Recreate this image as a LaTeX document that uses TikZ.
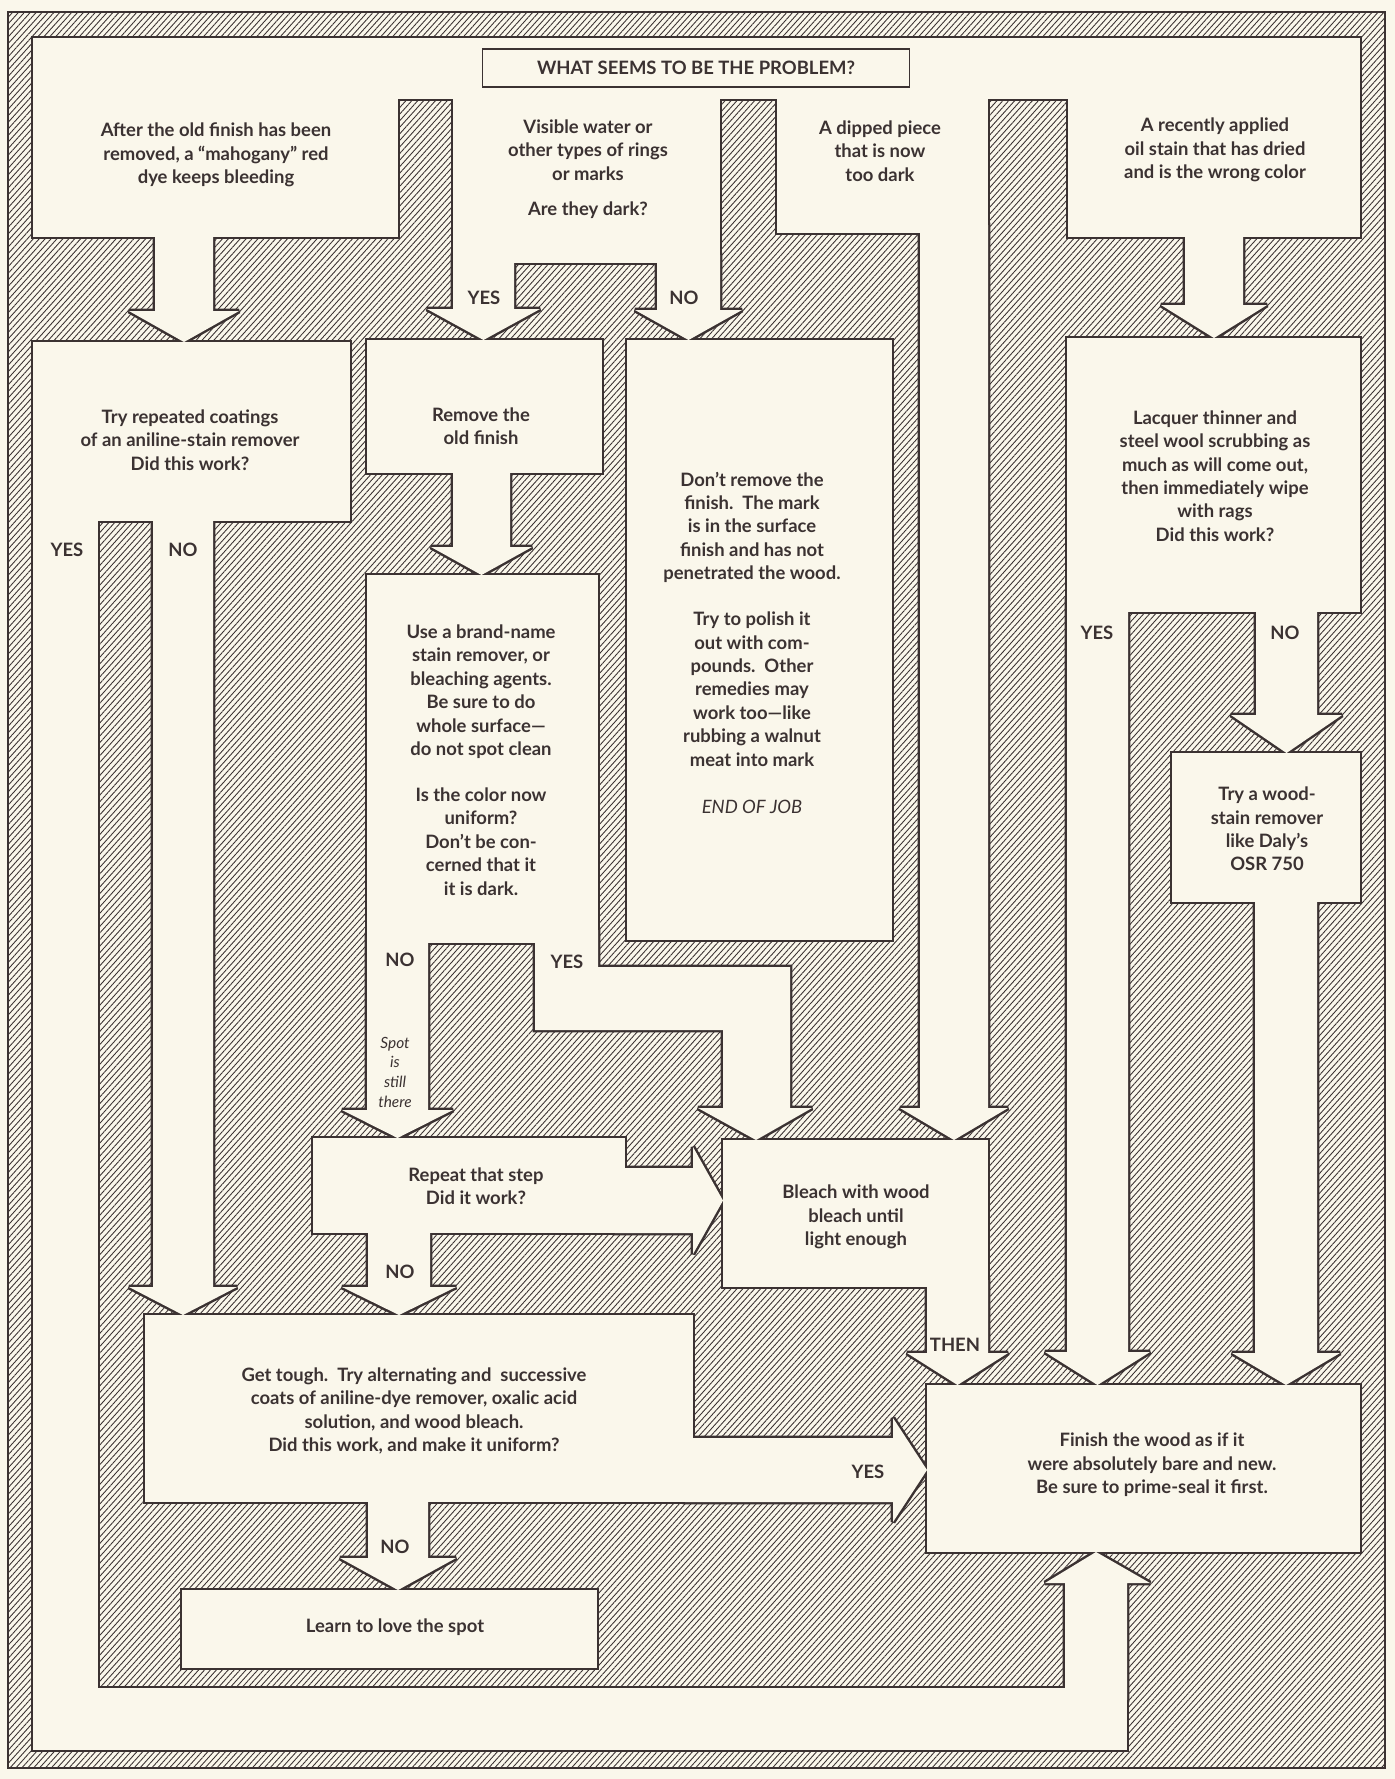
\documentclass[tikz,border=0pt]{standalone}
\usepackage{fontspec}
\setmainfont{Lato}
\usetikzlibrary{patterns.meta}
\definecolor{paper}{HTML}{FAF7EB}
\definecolor{ink}{HTML}{3B3232}
\tikzset{
    % hatched ground behind the channels
    hatch/.style={
        pattern={Lines[angle=48,distance=2.5pt,line width=0.5pt]},
        pattern color=ink},
    % first pass: heavy rim, only its outer half survives
    rim/.style={
        draw=ink,
        line width=2.8pt,
        miter limit=3,
        fill=paper},
    % second pass: wipe the inner half of every rim
    core/.style={fill=paper},
    % texts
    boxtext/.style={
        align=center,
        text=ink,
        inner sep=0pt,
        font=\fontsize{10.5}{13.3}\selectfont\bfseries},
    answer/.style={boxtext},
    aside/.style={
        align=center,
        text=ink,
        inner sep=0pt,
        font=\fontsize{8.8}{11.2}\selectfont\itshape}
}
% down channel: opts, left x, right x, top y, wing y, overhang, tip y
\newcommand\dnpipe[7]{\path[#1] (#2,#4) -- (#2,#5) -- ({#2-#6},#5) -- ({(#2+#3)/2},#7)
    -- ({#3+#6},#5) -- (#3,#5) -- (#3,#4) -- cycle;}
% right channel: opts, top y, bottom y, start x, wing x, overhang, tip x
\newcommand\rtpipe[7]{\path[#1] (#4,#2) -- (#5,#2) -- (#5,{#2-#6}) -- (#7,{(#2+#3)/2})
    -- (#5,{#3+#6}) -- (#5,#3) -- (#4,#3) -- cycle;}
% all cream channels, drawn twice
\newcommand\flowpipes[1]{%
    % question row
    \path[#1] (33,38) rectangle (1360,99);
    \path[#1] (33,38) rectangle (398,237);
    \path[#1] (453,38) rectangle (720,263);
    \path[#1] (777,38) rectangle (988,233);
    \path[#1] (1068,38) rectangle (1360,237);
    \dnpipe{#1}{155}{213}{228}{311}{26}{342}
    \dnpipe{#1}{453}{514}{255}{309}{26}{340}
    \dnpipe{#1}{657}{720}{255}{310}{22}{340}
    \dnpipe{#1}{1185}{1243}{228}{305}{24}{338}
    \dnpipe{#1}{920}{988}{225}{1108}{20}{1140}
    % left column and the long way round
    \path[#1] (33,342) rectangle (350,521);
    \path[#1] (33,510) rectangle (98,1750);
    \path[#1] (33,1688) rectangle (1127,1750);
    \path[#1] (1065,1700) -- (1065,1583) -- (1045,1583) -- (1096,1552) -- (1150,1583)
        -- (1127,1583) -- (1127,1700) -- cycle;
    \dnpipe{#1}{153}{213}{510}{1287}{24}{1315}
    % middle column
    \path[#1] (367,340) rectangle (602,473);
    \dnpipe{#1}{453}{510}{465}{547}{22}{575}
    \path[#1] (367,575) rectangle (598,943);
    \dnpipe{#1}{367}{428}{935}{1110}{25}{1138}
    \path[#1] (535,930) -- (535,1030) -- (723,1030) -- (723,1108) -- (698,1108) -- (756,1140)
        -- (812,1108) -- (790,1108) -- (790,967) -- (598,967) -- (598,930) -- cycle;
    \path[#1] (627,340) rectangle (892,940);
    \path[#1] (723,1140) rectangle (988,1287);
    \dnpipe{#1}{927}{988}{1280}{1353}{20}{1385}
    \path[#1] (313,1138) rectangle (625,1233);
    \rtpipe{#1}{1168}{1233}{615}{693}{21}{723}
    \dnpipe{#1}{368}{430}{1225}{1287}{26}{1315}
    \path[#1] (145,1315) rectangle (693,1502);
    \rtpipe{#1}{1438}{1502}{685}{893}{20}{927}
    \dnpipe{#1}{368}{428}{1494}{1558}{28}{1590}
    \path[#1] (182,1590) rectangle (597,1668);
    % right column
    \path[#1] (1067,338) rectangle (1360,612);
    \dnpipe{#1}{1067}{1128}{600}{1352}{22}{1385}
    \dnpipe{#1}{1256}{1317}{600}{715}{25}{753}
    \path[#1] (1172,753) rectangle (1360,902);
    \dnpipe{#1}{1255}{1317}{895}{1353}{23}{1385}
    \path[#1] (927,1385) rectangle (1360,1552);
}

\begin{document}
\begin{tikzpicture}[x=0.02cm, y=-0.02cm]
    \useasboundingbox (0,0) rectangle (1395,1779);
    \fill[paper] (0,0) rectangle (1395,1779);
    \draw[ink, line width=1.6pt, hatch] (8,12) rectangle (1385,1768);
    % channels: rims first, then the cream over them
    \flowpipes{rim}
    \flowpipes{core}

    % headline
    \node[boxtext, draw=ink, line width=0.7pt, minimum width=8.54cm, minimum height=0.76cm]
        (title) at (696,68) {WHAT SEEMS TO BE THE PROBLEM?};

    % problems
    \node[boxtext] (qbleed) at (216,155) {After the old finish has been\\removed, a ``mahogany'' red\\dye keeps bleeding};
    \node[boxtext] (qrings) at (588,169) {Visible water or\\other types of rings\\or marks\\[6.8pt]Are they dark?};
    \node[boxtext] (qdipped) at (880,151) {A dipped piece\\that is now\\too dark};
    \node[boxtext] (qstain) at (1215,150) {A recently applied\\oil stain that has dried\\and is the wrong color};
    \node[answer] (yesdark) at (484,298) {YES};
    \node[answer] (nodark) at (684,298) {NO};

    % steps
    \node[boxtext] (aniline) at (190,440) {Try repeated coatings\\of an aniline-stain remover\\Did this work?};
    \node[answer] (yesaniline) at (67,550) {YES};
    \node[answer] (noaniline) at (183,550) {NO};
    \node[boxtext] (strip) at (481,426) {Remove the\\old finish};
    \node[boxtext] (brand) at (481,760) {Use a brand-name\\stain remover, or\\bleaching agents.\\Be sure to do\\whole surface---\\do not spot clean\\[13pt]Is the color now\\uniform?\\Don't be con-\\cerned that it\\it is dark.};
    \node[boxtext] (polish) at (752,643) {Don't remove the\\finish.\ \ The mark\\is in the surface\\finish and has not\\penetrated the wood.\\[13pt]Try to polish it\\out with com-\\pounds.\ \ Other\\remedies may\\work too---like\\rubbing a walnut\\meat into mark\\[14pt]{\mdseries\itshape END OF JOB}};
    \node[boxtext] (lacquer) at (1215,476) {Lacquer thinner and\\steel wool scrubbing as\\much as will come out,\\then immediately wipe\\with rags\\Did this work?};
    \node[answer] (yeslacquer) at (1097,633) {YES};
    \node[answer] (nolacquer) at (1285,633) {NO};
    \node[boxtext] (daly) at (1267,829) {Try a wood-\\stain remover\\like Daly's\\OSR 750};
    \node[answer] (nouniform) at (400,960) {NO};
    \node[answer] (yesuniform) at (567,962) {YES};
    \node[aside] (spot) at (395,1072) {Spot\\is\\still\\there};
    \node[boxtext] (repeat) at (476,1186) {Repeat that step\\Did it work?};
    \node[answer] (norepeat) at (400,1272) {NO};
    \node[boxtext] (bleach) at (856,1217) {Bleach with wood\\bleach until\\light enough};
    \node[answer] (then) at (955,1345) {THEN};
    \node[boxtext] (tough) at (414,1411) {Get tough.\ \ Try alternating and\ \ successive\\coats of aniline-dye remover, oxalic acid\\solution, and wood bleach.\\Did this work, and make it uniform?};
    \node[answer] (yestough) at (868,1472) {YES};
    \node[answer] (notough) at (395,1547) {NO};
    \node[boxtext] (love) at (395,1627) {Learn to love the spot};
    \node[boxtext] (refinish) at (1152,1465) {Finish the wood as if it\\were absolutely bare and new.\\Be sure to prime-seal it first.};
\end{tikzpicture}
\end{document}
